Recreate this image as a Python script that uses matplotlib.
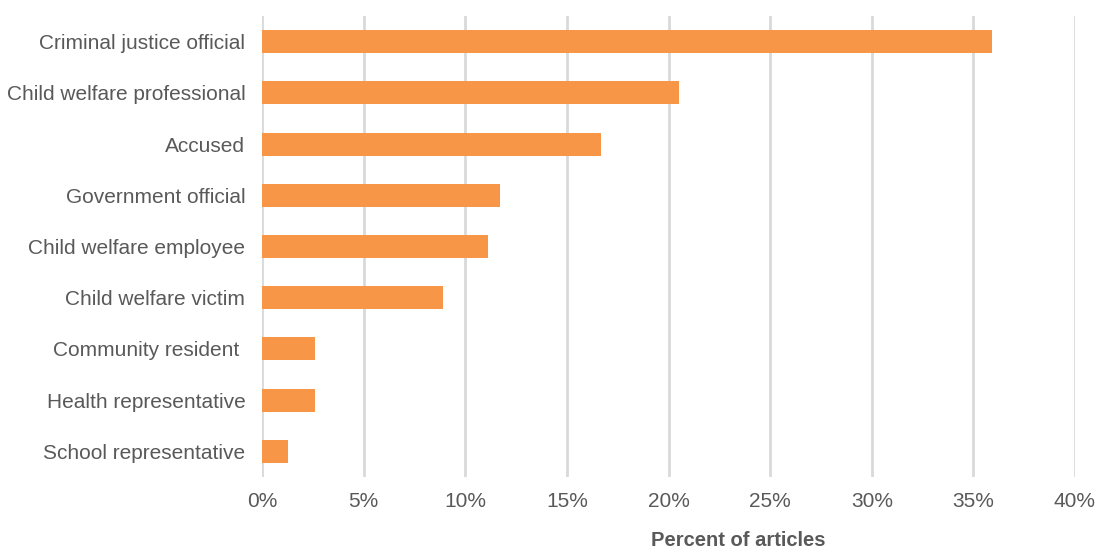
import numpy as np
import matplotlib.pyplot as plt

# data (top to bottom)
categories = ["Criminal justice official", "Child welfare professional", "Accused",
              "Government official", "Child welfare employee", "Child welfare victim",
              "Community resident ", "Health representative", "School representative"]
percents = [35.9, 20.5, 16.7, 11.7, 11.1, 8.9, 2.6, 2.6, 1.3]
xticks = [0, 5, 10, 15, 20, 25, 30, 35, 40]

plt.rcParams['font.family'] = ['Liberation Sans', 'DejaVu Sans']
txt = '#595959'

fig = plt.figure(figsize=(10.98, 5.5), dpi=100)
ax = fig.add_axes([262/1098, 1-477/550, (1075-262)/1098, 461/550])

y = np.arange(len(categories))
ax.barh(y, percents, height=0.45, color='#F79646', zorder=3)
ax.set_ylim(len(categories)-0.5, -0.5)
ax.set_yticks(y)
ax.set_yticklabels(categories, fontsize=15, color=txt)

ax.set_xlim(0, 40)
ax.set_xticks(xticks)
ax.set_xticklabels([f"{t}%" for t in xticks], fontsize=15, color=txt)
ax.xaxis.grid(True, color='#d9d9d9', linewidth=2)
ax.tick_params(length=0, pad=11, axis='x')
ax.tick_params(length=0, pad=12, axis='y')
for s in ax.spines.values():
    s.set_visible(False)

fig.text(738/1098, 1-540/550, "Percent of articles", fontsize=14.5, fontweight='bold',
         color=txt, ha='center', va='center')

fig.savefig("out.png", dpi=100)
